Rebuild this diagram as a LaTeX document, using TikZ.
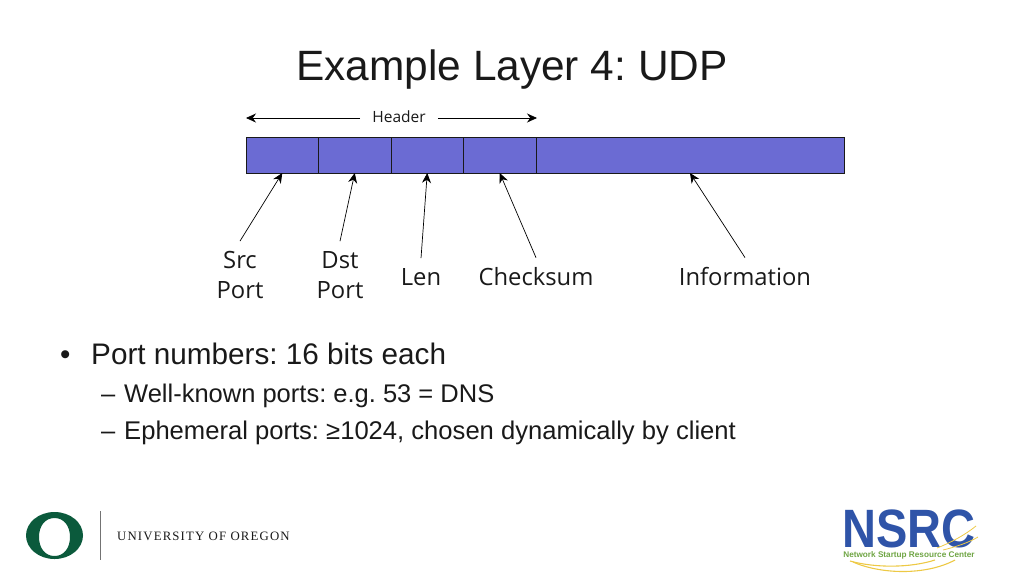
\documentclass[tikz,border=0pt]{standalone}
\usepackage{fontspec}
\setmainfont{Liberation Sans}
\newfontfamily\labelfont{Open Sans}
\newfontfamily\oregonfont[LetterSpace=9]{Liberation Serif}
\usetikzlibrary{arrows.meta, positioning}
\definecolor{cellblue}{HTML}{6B6BD3}
\definecolor{oregongreen}{HTML}{0B5A3C}
\definecolor{nsrcblue}{HTML}{2F54A8}
\definecolor{nsrcgreen}{HTML}{6FA544}
\definecolor{nsrcyellow}{HTML}{EDC945}
\tikzstyle{cell} = [draw=black!90, fill=cellblue, rectangle, minimum height=36, inner sep=0pt, outer sep=0pt, line width=1pt]
\tikzstyle{fieldlabel} = [font=\labelfont\fontsize{23.8}{30}\selectfont, align=center, inner xsep=0pt, inner ysep=10pt, text=black!90]
\tikzstyle{pointer} = [-{Stealth[length=10pt,width=9pt]}, black, line width=0.7pt]
\tikzstyle{bullettext} = [anchor=base west, inner sep=0pt, text=black!90]
\begin{document}
\frenchspacing
\begin{tikzpicture}[x=1pt,y=-1pt]
	\useasboundingbox (0,0) rectangle (1024,576);
	\node [inner sep=0pt, anchor=base, font=\fontsize{42.4}{48}\selectfont, text=black!90] (title) at (512,80) {Example Layer 4: UDP};
	% packet
	\node [cell, minimum width=72.5, anchor=north west] (src) at (246,137) {};
	\node [cell, minimum width=72.5, right=0pt of src] (dst) {};
	\node [cell, minimum width=72.5, right=0pt of dst] (len) {};
	\node [cell, minimum width=72.5, right=0pt of len] (sum) {};
	\node [cell, minimum width=308, right=0pt of sum] (info) {};
	% header span
	\node [font=\labelfont\fontsize{15.5}{18}\selectfont, inner xsep=12pt, inner ysep=0pt, text=black!90] (header) at (399,117) {Header};
	\coordinate (hleft) at (246,118);
	\coordinate (hright) at (537,118);
	\draw [pointer] (header.west |- hleft) -- (hleft);
	\draw [pointer] (header.east |- hright) -- (hright);
	% labels
	\node [fieldlabel] (srclabel) at (240,275) {Src\\Port};
	\node [fieldlabel] (dstlabel) at (340,275) {Dst\\Port};
	\node [fieldlabel] (lenlabel) at (421,277) {Len};
	\node [fieldlabel] (sumlabel) at (536,277) {Checksum};
	\node [fieldlabel] (infolabel) at (745,277) {Information};
	\draw [pointer] (srclabel.north) -- (src.south);
	\draw [pointer] (dstlabel.north) -- (dst.south);
	\draw [pointer] (lenlabel.north) -- (len.south);
	\draw [pointer] (sumlabel.north) -- (sum.south);
	\draw [pointer] (infolabel.north) -- (info.south);
	% text
	\node [bullettext, font=\fontsize{29.5}{34}\selectfont] (b1) at (60,364) {•};
	\node [bullettext, font=\fontsize{29.7}{34}\selectfont] (t1) at (91,364) {Port numbers: 16 bits each};
	\node [bullettext, font=\fontsize{25.5}{30}\selectfont] (b2) at (101,402) {–};
	\node [bullettext, font=\fontsize{25.5}{30}\selectfont] (t2) at (124,402) {Well-known ports: e.g. 53 = DNS};
	\node [bullettext, font=\fontsize{25.5}{30}\selectfont] (b3) at (101,439) {–};
	\node [bullettext, font=\fontsize{25.6}{30}\selectfont] (t3) at (124,439) {Ephemeral ports: ≥1024, chosen dynamically by client};
	% oregon logo
	\fill [oregongreen, even odd rule] (54.5,535.5) ellipse [x radius=28.5, y radius=23.5]
		(54.5,518) .. controls (64,518) and (70,526) .. (70,537) .. controls (70,548) and (64,556) .. (54.5,556) .. controls (45,556) and (39,548) .. (39,537) .. controls (39,526) and (45,518) .. (54.5,518) -- cycle;
	\draw [black!55, line width=0.7pt] (100,511) -- (100,560);
	\node [anchor=west, inner sep=0pt, font=\oregonfont\fontsize{12.8}{15}\selectfont, text=black!90] (oregon) at (117,536) {UNIVERSITY OF OREGON};
	% nsrc logo
	\node [inner sep=0pt, anchor=base, xscale=0.87, text depth=0pt, font=\bfseries\fontsize{54}{60}\selectfont, text=nsrcblue] (nsrc) at (909,547) {NSRC};
	\node [inner sep=0pt, anchor=base, font=\bfseries\fontsize{8.2}{10}\selectfont, text=nsrcgreen] (nsrctag) at (909,557) {Network Startup Resource Center};
	\draw [nsrcyellow, line width=1.1pt] (853,562) .. controls (880,574) and (925,576) .. (955,560);
	\draw [nsrcyellow, line width=1.1pt] (850,561) .. controls (875,568) and (910,568) .. (935,560);
	\draw [nsrcyellow, line width=0.8pt] (937,548) .. controls (950,543) and (965,535) .. (976,526);
	\draw [nsrcyellow, line width=0.8pt] (943,550) .. controls (955,547) and (968,543) .. (978,537);
\end{tikzpicture}
\end{document}
